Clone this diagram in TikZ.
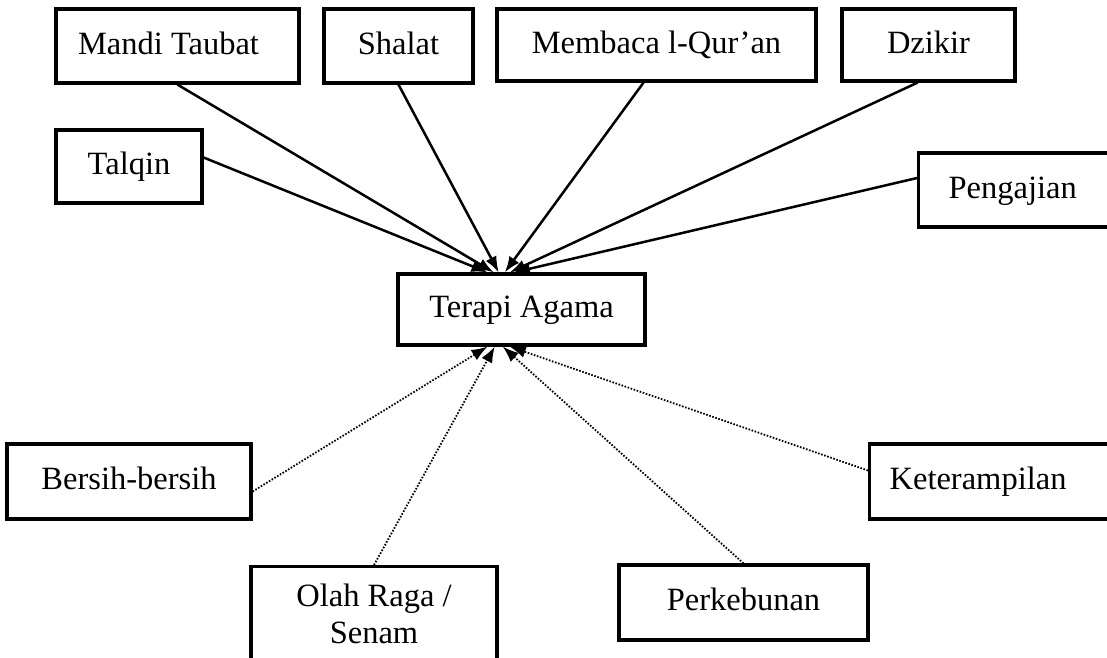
\documentclass[tikz,border=0pt]{standalone}
\usepackage{fontspec}
\setmainfont{Liberation Serif}
\usetikzlibrary{calc}
\usetikzlibrary{arrows.meta}

\begin{document}
\begin{tikzpicture}[x=1pt,y=-1pt,
  kotak/.style={draw,line width=3.2pt,inner ysep=0pt,inner xsep=0pt,align=center,
    font=\fontsize{32.5}{37}\selectfont,text height=24pt,text depth=8pt},
  panah/.style={line width=2.5pt,-{Latex[length=16pt,width=12pt]}},
  titik/.style={line width=1.8pt,dash pattern=on 1.6pt off 1.6pt,-{Latex[length=16pt,width=12pt]}}]
\useasboundingbox (0,0) rectangle (1107,657);

\node[kotak,minimum height=71pt,minimum width=247pt] (terapi) at (521.5,309.5) {Terapi Agama};

\node[kotak,minimum height=74pt,minimum width=243pt] (mandi) at (177.5,46) {Mandi Taubat\hspace{18pt}};
\node[kotak,minimum height=74pt,minimum width=149pt] (shalat) at (398.5,46) {Shalat};
\node[kotak,minimum height=72pt,minimum width=319pt] (membaca) at (656.5,45) {Membaca l-Qur'an};
\node[kotak,minimum height=72pt,minimum width=173pt] (dzikir) at (928.5,45) {Dzikir};
\node[kotak,minimum height=73pt,minimum width=146pt] (talqin) at (129,166.5) {Talqin};
\node[kotak,minimum height=74pt,anchor=west,inner xsep=30pt,text width=190pt,align=left] (pengajian) at (917,190) {Pengajian};

\node[kotak,minimum height=75pt,minimum width=244pt] (bersih) at (129,481.5) {Bersih-bersih};
\node[kotak,minimum height=75pt,anchor=west,inner xsep=20pt,text width=230pt,align=left] (terampil) at (868,481.5) {Keterampilan};
\node[kotak,minimum height=100pt,minimum width=246pt,anchor=north,text height=61pt] (olahraga) at (374,565) {Olah Raga /\\Senam};
\node[kotak,minimum height=75pt,minimum width=249pt] (kebun) at (743.5,602.5) {Perkebunan};

\coordinate (A1) at ($(terapi.north west)!.364!(terapi.north east)$);
\coordinate (A2) at ($(terapi.north west)!.389!(terapi.north east)$);
\coordinate (A3) at ($(terapi.north west)!.409!(terapi.north east)$);
\coordinate (A4) at ($(terapi.north west)!.433!(terapi.north east)$);
\coordinate (A5) at ($(terapi.north west)!.453!(terapi.north east)$);
\coordinate (A6) at ($(terapi.north west)!.470!(terapi.north east)$);
\coordinate (B1) at ($(terapi.south west)!.364!(terapi.south east)$);
\coordinate (B2) at ($(terapi.south west)!.393!(terapi.south east)$);
\coordinate (B3) at ($(terapi.south west)!.425!(terapi.south east)$);
\coordinate (B4) at ($(terapi.south west)!.453!(terapi.south east)$);

\draw[panah] ([yshift=9pt]talqin.east) -- (A1);
\draw[panah] (mandi.south) -- (A2);
\draw[panah] (shalat.south) -- (A3);
\draw[panah] ([xshift=-13pt]membaca.south) -- (A4);
\draw[panah] ([xshift=-11pt]dzikir.south) -- (A5);
\draw[panah] ([yshift=12pt]pengajian.west) -- (A6);

\draw[titik] ([yshift=-10pt]bersih.east) -- (B1);
\draw[titik] (olahraga.north) -- (B2);
\draw[titik] (kebun.north) -- (B3);
\draw[titik] ([yshift=11pt]terampil.west) -- (B4);
\end{tikzpicture}
\end{document}
